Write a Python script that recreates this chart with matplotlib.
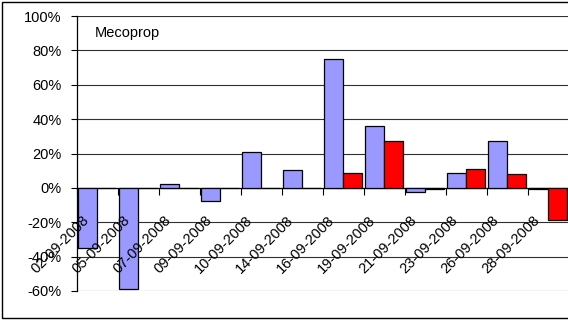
import matplotlib
matplotlib.use("Agg")
import matplotlib.pyplot as plt
import matplotlib.transforms as mtransforms
from matplotlib.patches import Rectangle

dates = ["02-09-2008", "05-09-2008", "07-09-2008", "09-09-2008", "10-09-2008",
         "14-09-2008", "16-09-2008", "19-09-2008", "21-09-2008", "23-09-2008",
         "26-09-2008", "28-09-2008"]
series_blue = [-35, -59, 2.4, -7.7, 20.8, 10.3, 75, 36.2, -2.2, 8.8, 27.4, -0.5]
series_red = [0, 0, 0, 0, 0, 0, 8.8, 27.4, -0.5, 11.1, 8.2, -18.7]
yticks = [-60, -40, -20, 0, 20, 40, 60, 80, 100]
title = "Mecoprop"

W, H = 568, 322
fig = plt.figure(figsize=(W / 100, H / 100), dpi=100)
plt.rcParams['font.family'] = ['Liberation Sans', 'DejaVu Sans']

left_px, right_px, top_px, bot_px = 77, 77 + 12 * 41, 16, 291
ax = fig.add_axes([left_px / W, 1 - bot_px / H, (right_px - left_px) / W, (bot_px - top_px) / H])

n = len(dates)
xs = list(range(n))
bw = 0.465
ax.bar([x + 0.03 for x in xs], series_blue, width=bw, align='edge', color='#9999FF',
       edgecolor='black', linewidth=0.9, zorder=3)
ax.bar([x + 0.03 + bw for x in xs], series_red, width=bw, align='edge', color='#FF0000',
       edgecolor='black', linewidth=0.9, zorder=3)

ax.set_xlim(0, n)
ax.set_ylim(-60, 100)
for y in yticks:
    if y != 0:
        ax.axhline(y, color='#303030', linewidth=0.8, zorder=1)

ax.set_yticks(yticks)
ax.set_yticklabels([f"{v}%" for v in yticks], fontsize=10.5)
ax.tick_params(axis='y', length=4, width=0.8, pad=7, color='black')

ax.spines['top'].set_visible(False)
ax.spines['right'].set_visible(False)
ax.spines['bottom'].set_position(('data', 0))
ax.spines['bottom'].set_linewidth(0.9)
ax.spines['left'].set_linewidth(0.9)
ax.set_xticks(range(n + 1))
ax.set_xticklabels([])
ax.tick_params(axis='x', length=5, width=0.8, direction='out')

base = mtransforms.blended_transform_factory(ax.transData, ax.transData)
off = mtransforms.ScaledTranslation(-16 / 100, -25 / 100, fig.dpi_scale_trans)
for i, d in enumerate(dates):
    ax.text(i + 0.5, 0, d, rotation=45, ha='right', va='top', rotation_mode='anchor',
            fontsize=10.5, transform=base + off, zorder=5)

ax.text(18 / (right_px - left_px), 1 - 17 / (bot_px - top_px), title, transform=ax.transAxes,
        fontsize=10.5, ha='left', va='center')

fig.patches.append(Rectangle((2 / W, 4 / H), 1.0, 1 - 6 / H, transform=fig.transFigure,
                             fill=False, edgecolor='black', linewidth=1.0))

fig.savefig("out.png", dpi=100, facecolor='white')
